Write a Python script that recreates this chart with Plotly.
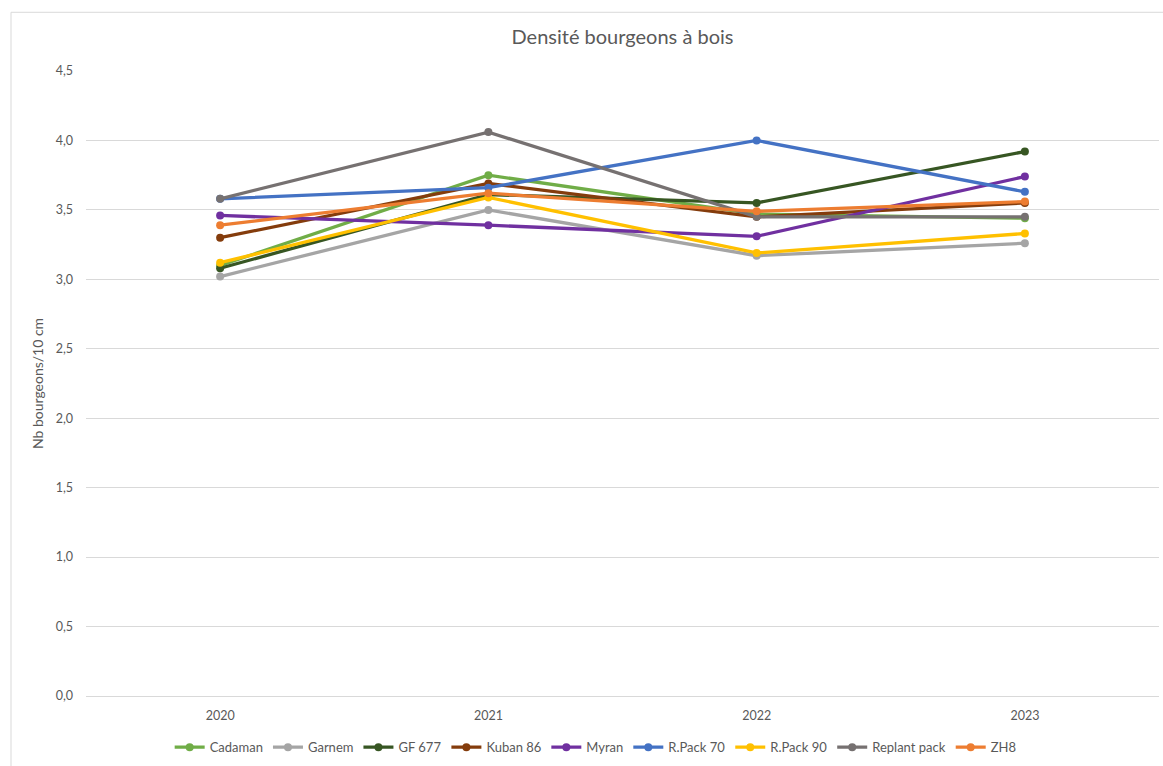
import plotly.graph_objects as go

# Years on the category axis
years = ["2020", "2021", "2022", "2023"]

# Wood-bud density per rootstock (buds per 10 cm)
cadaman = [3.10, 3.75, 3.47, 3.44]
garnem = [3.02, 3.50, 3.17, 3.26]
gf677 = [3.08, 3.61, 3.55, 3.92]
kuban86 = [3.30, 3.69, 3.45, 3.55]
myran = [3.46, 3.39, 3.31, 3.74]
rpack70 = [3.58, 3.66, 4.00, 3.63]
rpack90 = [3.12, 3.59, 3.19, 3.33]
replant = [3.58, 4.06, 3.45, 3.45]
zh8 = [3.39, 3.62, 3.49, 3.56]

series = [
    ("Cadaman", cadaman, "#70AD47"),
    ("Garnem", garnem, "#A5A5A5"),
    ("GF 677", gf677, "#375623"),
    ("Kuban 86", kuban86, "#843C0C"),
    ("Myran", myran, "#7030A0"),
    ("R.Pack 70", rpack70, "#4472C4"),
    ("R.Pack 90", rpack90, "#FFC000"),
    ("Replant pack", replant, "#767171"),
    ("ZH8", zh8, "#ED7D31"),
]

FONT = "Lato"
TEXT = "#595959"
GRID = "#D9D9D9"

fig = go.Figure()
for name, vals, color in series:
    fig.add_trace(go.Scatter(
        x=years, y=vals, name=name, mode="lines+markers",
        line=dict(color=color, width=3.3),
        marker=dict(color=color, size=8),
    ))

fig.update_layout(
    width=1163, height=766,
    margin=dict(l=86, r=4, t=71, b=67),
    paper_bgcolor="white", plot_bgcolor="white",
    separators=", ",
    font=dict(family=FONT, color=TEXT, size=12),
    title=dict(text="Densité bourgeons à bois", x=0.5, xref="paper",
               xanchor="center", y=1 - 37 / 766, yanchor="middle",
               font=dict(size=20, color=TEXT, family=FONT)),
    xaxis=dict(type="category", range=[-0.5, 3.5], showgrid=False,
               showline=False, zeroline=False, ticks="",
               ticklabelstandoff=10,
               tickfont=dict(size=12.5, color=TEXT)),
    yaxis=dict(range=[0, 4.5], dtick=0.5, tickformat=".1f",
               showgrid=True, gridcolor=GRID, gridwidth=1,
               zeroline=True, zerolinecolor=GRID, zerolinewidth=1,
               showline=False, ticks="", ticklabelstandoff=12,
               tickfont=dict(size=12.5, color=TEXT),
               title=dict(text="Nb bourgeons/10 cm", standoff=8,
                          font=dict(size=14, color=TEXT))),
    legend=dict(orientation="h", x=0.475, xanchor="center",
                y=-0.082, yanchor="middle",
                font=dict(size=13, color=TEXT),
                itemwidth=30, tracegroupgap=0,
                bgcolor="rgba(0,0,0,0)"),
    showlegend=True,
)

# Light border around the chart area
fig.add_shape(type="rect", xref="paper", yref="paper",
              x0=(11 - 86) / 1073, x1=1.05,
              y0=-0.2, y1=1 + (71 - 12) / 628,
              line=dict(color=GRID, width=1), fillcolor="rgba(0,0,0,0)",
              layer="below")

fig.write_html("out.html")
